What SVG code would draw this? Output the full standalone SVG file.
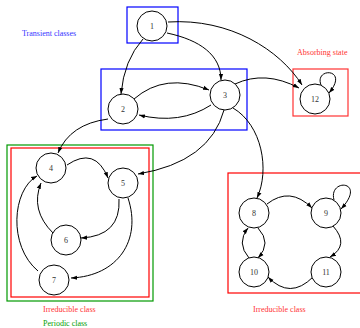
<svg xmlns="http://www.w3.org/2000/svg" width="360" height="328" viewBox="0 0 360 328">
<style>
.n circle{fill:#fff;stroke:#000;stroke-width:1}
.n text{font-family:"Liberation Serif",serif;font-size:8px;text-anchor:middle;fill:#333}
.e path{fill:none;stroke:#000;stroke-width:1;marker-end:url(#a)}
.lbl{font-family:"Liberation Serif",serif;font-size:8px}
.box{fill:none;stroke-width:1.2}
</style>
<defs>
<marker id="a" viewBox="0 0 10 10" refX="10" refY="5" markerWidth="6" markerHeight="6" orient="auto" markerUnits="userSpaceOnUse">
<path d="M0,1.5 L10,5 L0,8.5 Z" fill="#000"/>
</marker>
</defs>
<rect width="360" height="328" fill="#fff"/>
<g id="boxes">
<rect class="box" x="127" y="7" width="51" height="36" stroke="#0000ff"/>
<rect class="box" x="101" y="69" width="146" height="61" stroke="#0000ff"/>
<rect class="box" x="293" y="69" width="55" height="47" stroke="#ff3333"/>
<rect class="box" x="7" y="145" width="146" height="156" stroke="#009900"/>
<rect class="box" x="11" y="148" width="138" height="149" stroke="#ff0000"/>
<rect class="box" x="228" y="173" width="140" height="120" stroke="#ff0000"/>
</g>
<g id="labels">
<text class="lbl" x="22" y="36" fill="#3333ff">Transient classes</text>
<text class="lbl" x="297" y="55" fill="#ff3333">Absorbing state</text>
<text class="lbl" x="43" y="312" fill="#ff3333">Irreducible class</text>
<text class="lbl" x="43" y="326" fill="#00a000">Periodic class</text>
<text class="lbl" x="253" y="312" fill="#ff3333">Irreducible class</text>
</g>
<g id="connectors" class="e">
<path d="M143,39 Q124,60 121,94"/>
<path d="M167,33 C200,40 221,55 221,80"/>
<path d="M168,22 C230,18 280,50 302,85"/>
<path d="M134,99 Q165,72 209,90"/>
<path d="M211,105 Q180,125 139,115"/>
<path d="M235,84 Q265,70 299,88"/>
<path d="M321,85 C314,67 350,68 329,93"/>
<path d="M108,119 Q70,124 58,153"/>
<path d="M224,110 Q210,162 138,174"/>
<path d="M233,108 C262,125 270,170 257,198"/>
<path d="M67,165 Q95,146 108,178"/>
<path d="M119,199 Q121,236 81,238"/>
<path d="M53,233 Q30,210 41,183"/>
<path d="M38,271 C8,246 12,190 37,176"/>
<path d="M128,198 C142,240 118,276 71,278"/>
<path d="M267,204 Q290,186 312,208"/>
<path d="M334,200 C328,178 368,180 341,209"/>
<path d="M333,226 Q350,245 330,257"/>
<path d="M313,277 Q290,300 268,277"/>
<path d="M258,228 Q272,243 258,258"/>
<path d="M249,258 Q236,243 248,228"/>
</g>
<g id="node1" class="n"><circle cx="152" cy="26" r="15"/><text x="152" y="29">1</text></g>
<g id="node2" class="n"><circle cx="123" cy="109" r="15"/><text x="123" y="112">2</text></g>
<g id="node3" class="n"><circle cx="225" cy="95" r="15"/><text x="225" y="98">3</text></g>
<g id="node12" class="n"><circle cx="315" cy="99" r="15"/><text x="315" y="102">12</text></g>
<g id="node4" class="n"><circle cx="51" cy="168" r="15"/><text x="51" y="171">4</text></g>
<g id="node5" class="n"><circle cx="123" cy="183" r="15"/><text x="123" y="186">5</text></g>
<g id="node6" class="n"><circle cx="66" cy="240" r="15"/><text x="66" y="243">6</text></g>
<g id="node7" class="n"><circle cx="54" cy="280" r="15"/><text x="54" y="283">7</text></g>
<g id="node8" class="n"><circle cx="254" cy="213" r="15"/><text x="254" y="216">8</text></g>
<g id="node9" class="n"><circle cx="326" cy="213" r="15"/><text x="326" y="216">9</text></g>
<g id="node10" class="n"><circle cx="254" cy="272" r="15"/><text x="254" y="275">10</text></g>
<g id="node11" class="n"><circle cx="326" cy="272" r="15"/><text x="326" y="275">11</text></g>
</svg>
